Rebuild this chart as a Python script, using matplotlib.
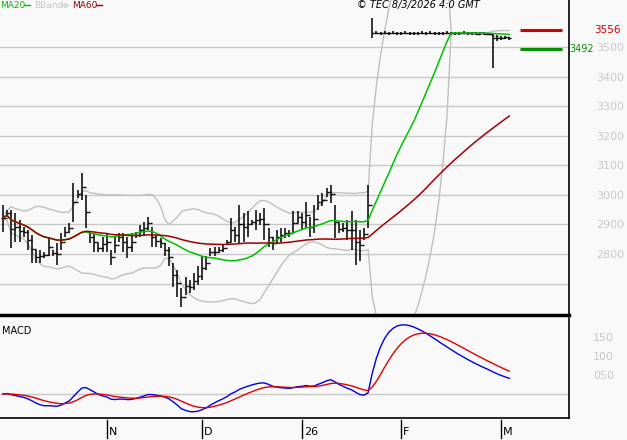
import numpy as np
import pandas as pd
import matplotlib
matplotlib.use("Agg")
import matplotlib.pyplot as plt

# ---- data ----
highs = [2966,2949,2949,2938,2915,2893,2882,2865,2814,2814,2808,2859,2814,2837,2870,2893,2904,3039,3017,3073,
         3000,2876,2870,2837,2859,2870,2814,2859,2870,2870,2859,2870,2876,2899,2910,2927,2893,2865,2853,2837,
         2825,2769,2746,2684,2724,2713,2735,2758,2792,2792,2820,2825,2825,2831,2848,2921,2893,2966,2938,2944,
         2915,2949,2938,2955,2887,2859,2882,2887,2887,2882,2944,2944,2938,2977,2927,2966,3000,3006,3023,3034,
         2966,2904,2904,2915,2944,2915,2882,2887,3034]
lows = [2876,2932,2820,2842,2842,2859,2814,2769,2769,2769,2786,2792,2792,2763,2814,2859,2870,2910,2989,2983,
        2887,2837,2808,2808,2808,2808,2763,2803,2842,2808,2786,2808,2853,2859,2865,2882,2825,2825,2820,2792,
        2758,2690,2656,2622,2662,2668,2679,2696,2713,2746,2792,2792,2803,2808,2831,2842,2842,2837,2842,2859,
        2899,2882,2899,2848,2825,2814,2837,2842,2853,2859,2870,2904,2882,2887,2859,2870,2949,2961,2994,2972,
        2853,2870,2876,2848,2814,2763,2775,2848,2887]
closes = [2922,2939,2885,2892,2878,2875,2848,2817,2790,2793,2797,2824,2804,2800,2841,2875,2888,2976,3003,3027,
          2943,2858,2841,2821,2834,2841,2790,2831,2858,2841,2824,2841,2865,2882,2888,2905,2858,2845,2838,2814,
          2790,2730,2703,2655,2692,2689,2709,2726,2753,2770,2807,2807,2814,2821,2841,2882,2865,2902,2892,2902,
          2909,2915,2919,2902,2858,2838,2858,2865,2872,2872,2905,2925,2909,2932,2892,2919,2976,2983,3010,3003,
          2909,2885,2888,2882,2882,2841,2831,2868,2966]
# flat period after the jump
flat_highs = [3598] + [3553, 3552, 3554, 3552, 3553, 3551, 3552, 3553, 3552, 3551, 3552, 3554, 3552, 3553,
              3552, 3551, 3552, 3553, 3552, 3551, 3552, 3553, 3552, 3551, 3550, 3551, 3550, 3549]
flat_lows = [3530] + [3543, 3542, 3544, 3542, 3543, 3541, 3542, 3543, 3542, 3541, 3542, 3544, 3542, 3543,
             3542, 3541, 3542, 3543, 3542, 3541, 3542, 3543, 3542, 3541, 3540, 3541, 3540, 3539]
flat_closes = [3548] + [3548, 3547, 3549, 3548, 3548, 3546, 3547, 3548, 3547, 3546, 3547, 3549, 3547, 3548,
               3547, 3546, 3547, 3548, 3547, 3546, 3547, 3548, 3547, 3546, 3545, 3546, 3545, 3544]
end_highs = [3548, 3540, 3538, 3536, 3535]
end_lows = [3430, 3522, 3524, 3526, 3525]
end_closes = [3530, 3532, 3530, 3533, 3531]

highs += flat_highs + end_highs
lows += flat_lows + end_lows
closes += flat_closes + end_closes

month_labels = ["N", "D", "26", "F", "M"]
month_pos = [25, 48, 72, 96, 120]
price_ticks = [2800, 2900, 3000, 3100, 3200, 3300, 3400, 3500]
last_red = 3556
last_green = 3492

# ---- indicators ----
c = pd.Series(closes, dtype=float)
ma20 = c.rolling(20, min_periods=1).mean()
ma60 = c.rolling(60, min_periods=1).mean()
sd20 = c.rolling(20, min_periods=1).std(ddof=0)
bb_up = ma20 + 2 * sd20
bb_lo = ma20 - 2 * sd20
ema12 = c.ewm(span=12, adjust=False).mean()
ema26 = c.ewm(span=26, adjust=False).mean()
macd = ema12 - ema26
signal = macd.ewm(span=9, adjust=False).mean()

n = len(closes)
idx = np.arange(n)
opens = [closes[0]] + closes[:-1]

W, H = 627, 440
fig = plt.figure(figsize=(W / 100, H / 100), dpi=100)
bg = "#f9f9f9"
fig.patch.set_facecolor(bg)

axr = 569 / W
ax = fig.add_axes([0, 1 - 315 / H, axr, 315 / H])
ax2 = fig.add_axes([0, 1 - 418 / H, axr, 100 / H])
for a in (ax, ax2):
    a.set_facecolor(bg)
    a.set_xlim(-0.7, 136.4)
    for s in ("left", "top"):
        a.spines[s].set_visible(False)
    a.spines["right"].set_linewidth(1.2)
    a.tick_params(left=False, bottom=False, labelbottom=False, labelleft=False,
                  right=False, labelright=True, labelsize=8, labelcolor="#c8c8c8", pad=14)
    a.yaxis.set_label_position("right")
ax.spines["bottom"].set_linewidth(2.5)
ax2.spines["bottom"].set_linewidth(1.2)

# price panel
ax.set_ylim(2594, 3659)
ax.set_yticks(price_ticks)
ax.set_yticklabels([str(t) for t in price_ticks])
ax.tick_params(pad=16)
for t in price_ticks + [2700]:
    ax.axhline(t, color="#c8c8c8", lw=1, zorder=0)

ax.vlines(idx, lows, highs, color="black", lw=1.1, zorder=3)
ax.hlines(opens, idx - 0.5, idx, color="black", lw=1, zorder=3)
ax.hlines(closes, idx, idx + 0.5, color="black", lw=1, zorder=3)

ax.plot(idx, bb_up, color="#c0c0c0", lw=1, zorder=2)
ax.plot(idx, bb_lo, color="#c0c0c0", lw=1, zorder=2)
ax.plot(idx, ma20, color="#00c000", lw=1.1, zorder=4)
ax.plot(idx, ma60, color="#a00000", lw=1.1, zorder=4)

ax.hlines(last_red, 124.6, 134.7, color="#d00000", lw=2.2)
ax.hlines(last_green, 124.6, 134.7, color="#009000", lw=2.2)
ax.text(1.045, last_red, str(last_red), transform=ax.get_yaxis_transform(), color="#d00000",
        fontsize=7.5, va="center", ha="left")
ax.text(1.0, last_green, str(last_green), transform=ax.get_yaxis_transform(), color="#009000",
        fontsize=7, va="center", ha="left")

# legend
fig.text(0 / W, 1 - 5 / H, "MA20", color="#00c000", fontsize=6.5, va="center")
fig.add_artist(plt.Line2D([24 / W, 30 / W], [1 - 5 / H] * 2, color="#00c000", lw=1))
fig.text(34 / W, 1 - 5 / H, "BBands", color="#c8c8c8", fontsize=6.5, va="center")
fig.add_artist(plt.Line2D([62 / W, 68 / W], [1 - 5 / H] * 2, color="#c8c8c8", lw=1))
fig.text(72 / W, 1 - 5 / H, "MA60", color="#a00000", fontsize=6.5, va="center")
fig.add_artist(plt.Line2D([96 / W, 102 / W], [1 - 5 / H] * 2, color="#a00000", lw=1))
fig.text(480 / W, 1 - 5 / H, "© TEC 8/3/2026 4:0 GMT", fontsize=7, style="italic",
         va="center", ha="right")

# MACD panel
ax2.set_ylim(-63, 200)
ax2.set_yticks([50, 100, 150])
ax2.set_yticklabels(["050", "100", "150"])
ax2.axhline(0, color="#c8c8c8", lw=1, zorder=0)
ax2.plot(idx, macd, color="#0000e0", lw=1)
ax2.plot(idx, signal, color="#e00000", lw=1)
ax2.text(0.003, 0.87, "MACD", transform=ax2.transAxes, fontsize=7, va="center")

# month ticks below
for lab, p in zip(month_labels, month_pos):
    xf = ax2.transData.transform((p, 0))[0] / fig.bbox.width
    fig.add_artist(plt.Line2D([xf, xf], [1 - 420 / H, 1 - 438 / H], color="black", lw=1))
    fig.text(xf + 2 / W, 1 - 432 / H, lab, fontsize=8, va="center", ha="left")

fig.savefig("out.png", dpi=100, facecolor=bg)
